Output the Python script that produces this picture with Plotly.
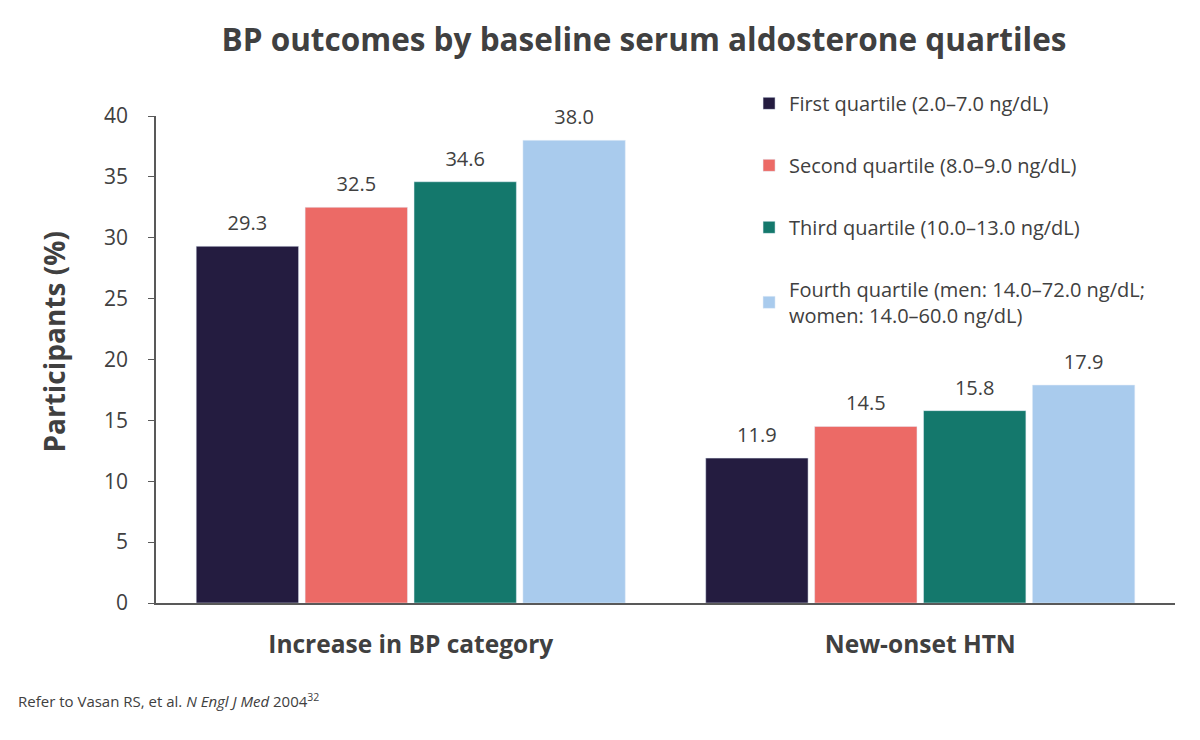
import plotly.graph_objects as go

# data
categories = ['Increase in BP category', 'New-onset HTN']
series_names = ['First quartile (2.0–7.0 ng/dL)',
                'Second quartile (8.0–9.0 ng/dL)',
                'Third quartile (10.0–13.0 ng/dL)',
                'Fourth quartile (men: 14.0–72.0 ng/dL;<br>women: 14.0–60.0 ng/dL)']
first_q = [29.3, 11.9]
second_q = [32.5, 14.5]
third_q = [34.6, 15.8]
fourth_q = [38.0, 17.9]
colors = ['#241C40', '#EC6A66', '#14786C', '#A9CBED']

FONT = 'Open Sans'
TXT = '#404040'

fig = go.Figure()
for i, vals in enumerate([first_q, second_q, third_q, fourth_q]):
    fig.add_trace(go.Bar(
        x=categories, y=vals, name=series_names[i],
        marker=dict(color=colors[i]),
        offsetgroup=str(i), alignmentgroup='q',
        legendgroup=str(i),
    ))
# value labels as grouped text scatter, so they can sit a bit higher above the bars
for i, vals in enumerate([first_q, second_q, third_q, fourth_q]):
    fig.add_trace(go.Scatter(
        x=categories, y=vals, mode='markers+text',
        marker=dict(size=16, opacity=0),
        text=[f'{v:.1f}' for v in vals], textposition='top center',
        textfont=dict(size=20, color=TXT, family=FONT),
        offsetgroup=str(i), alignmentgroup='q',
        showlegend=False, hoverinfo='skip', cliponaxis=False,
    ))

# page body has an 8px margin, so shift the figure up/left by 8px
fig.update_layout(
    width=1200, height=740,
    margin=dict(l=148, r=33, t=108, b=145),
    paper_bgcolor='white', plot_bgcolor='white',
    font=dict(family=FONT, color=TXT),
    barmode='group', bargap=0.145, bargroupgap=0.06,
    scattermode='group', scattergap=0.145,
    title=dict(text='<b>BP outcomes by baseline serum aldosterone quartiles</b>',
               x=0.53, xanchor='center', y=0.957, yanchor='middle',
               font=dict(size=31.5, color=TXT, family=FONT)),
    legend=dict(x=0.582, y=1.066, xanchor='left', yanchor='top',
                font=dict(size=20, color=TXT, family=FONT),
                traceorder='grouped', tracegroupgap=33,
                itemwidth=30, bgcolor='rgba(0,0,0,0)'),
    showlegend=True,
)
fig.update_xaxes(showline=True, linecolor='#595959', linewidth=1.5,
                 ticks='', ticklabelstandoff=19,
                 tickfont=dict(size=24.5, color=TXT, family=FONT, weight='bold'))
fig.update_yaxes(range=[0, 40], dtick=5, showgrid=False, zeroline=False,
                 showline=True, linecolor='#595959', linewidth=1.5,
                 ticks='outside', ticklen=6, tickcolor='#595959', ticklabelstandoff=16,
                 tickfont=dict(size=21, color=TXT, family=FONT))

# y-axis title as an annotation so it can sit slightly above the plot's middle
fig.add_annotation(text='<b>Participants (%)</b>', textangle=-90,
                   xref='paper', yref='paper', x=-0.1, y=0.535, xanchor='center', yanchor='middle',
                   showarrow=False, font=dict(size=28, color=TXT, family=FONT))

fig.add_annotation(text='Refer to Vasan RS, et al. <i>N Engl J Med</i> 2004<sup>32</sup>',
                   xref='paper', yref='paper', x=-0.137, y=-0.2, xanchor='left', yanchor='middle',
                   showarrow=False, font=dict(size=15, color=TXT, family=FONT))

fig.write_html('out.html')
